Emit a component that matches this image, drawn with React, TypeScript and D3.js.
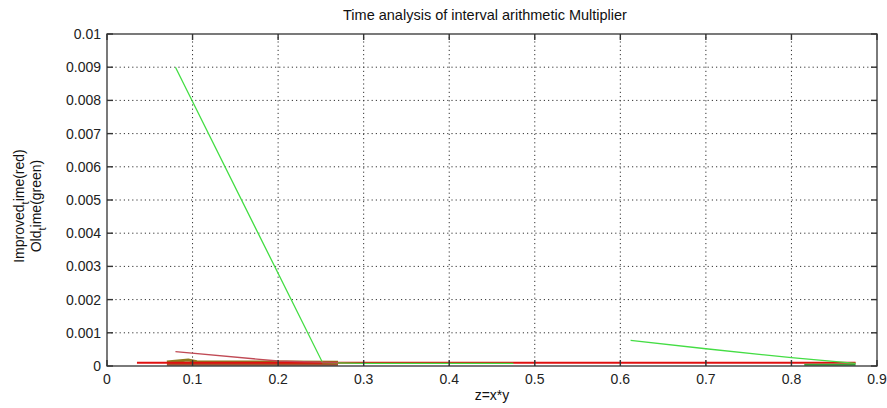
import * as d3 from 'd3'

// values
const xTicks = [0, 0.1, 0.2, 0.3, 0.4, 0.5, 0.6, 0.7, 0.8, 0.9]
const yTicks = [0, 0.001, 0.002, 0.003, 0.004, 0.005, 0.006, 0.007, 0.008, 0.009, 0.01]

// old time (green), two runs
const oldX1 = [0.08, 0.252, 0.3, 0.43, 0.475]
const oldY1 = [0.009, 0.0001, 0.00008, 0.00008, 0.00008]
const oldX2 = [0.612, 0.7, 0.8, 0.875]
const oldY2 = [0.00077, 0.00052, 0.00025, 0.00008]

// improved time (reds / browns)
const impX1 = [0.035, 0.1, 0.2, 0.3, 0.4, 0.42, 0.475, 0.5, 0.6, 0.7, 0.8, 0.875]
const impY1 = [0.0001, 0.0001, 0.0001, 0.0001, 0.0001, 0.0001, 0.0001, 0.0001, 0.0001, 0.0001, 0.0001, 0.0001]
const impX2 = [0.08, 0.2, 0.27]
const impY2 = [0.00043, 0.00015, 0.0001]
const oliveX = [0.07, 0.095, 0.105, 0.2, 0.27]
const oliveY = [0.00012, 0.00018, 0.00013, 0.00012, 0.00011]
const brownX = [0.07, 0.27]
const brownY = [0.00005, 0.00005]
const tailX = [0.815, 0.875]
const tailY = [0.00004, 0.00004]

const W = 887
const H = 408
const m = { top: 34, right: 10, bottom: 42, left: 107 }

const x = d3.scaleLinear().domain([0, 0.9]).range([m.left, W - m.right])
const y = d3.scaleLinear().domain([0, 0.01]).range([H - m.bottom, m.top])

const line = (xs: number[], ys: number[]) =>
  d3.line<number>().x((d) => x(d)).y((_, i) => y(ys[i]))(xs) || ''

const series = [
  { xs: brownX, ys: brownY, color: '#a4522e', w: 3 },
  { xs: oliveX, ys: oliveY, color: '#8c7a1c', w: 3 },
  { xs: impX1, ys: impY1, color: '#e01010', w: 2 },
  { xs: tailX, ys: tailY, color: '#3aa03a', w: 2 },
  { xs: oldX1, ys: oldY1, color: '#44dd44', w: 1.3 },
  { xs: oldX2, ys: oldY2, color: '#44dd44', w: 1.3 },
  { xs: impX2, ys: impY2, color: '#c04a55', w: 1.3 },
]

export default function App() {
  const font = 'Liberation Sans, Arial, sans-serif'
  const x0 = x(0)
  const x1 = x(0.9)
  const y0 = y(0)
  const y1 = y(0.01)
  return (
    <>
      <style>{'body{margin:0}'}</style>
      <svg width={W} height={H} style={{ display: 'block', background: '#fff' }} fontFamily={font}>
        {/* grid */}
        {xTicks.slice(1, -1).map((t) => (
          <line key={'gx' + t} x1={x(t)} x2={x(t)} y1={y0} y2={y1} stroke="#333" strokeDasharray="1.2,3" />
        ))}
        {yTicks.slice(1, -1).map((t) => (
          <line key={'gy' + t} x1={x0} x2={x1} y1={y(t)} y2={y(t)} stroke="#333" strokeDasharray="1.2,3" />
        ))}

        {series.map((s, i) => (
          <path key={i} d={line(s.xs, s.ys)} fill="none" stroke={s.color} strokeWidth={s.w} />
        ))}

        {/* box */}
        <rect x={x0} y={y1} width={x1 - x0} height={y0 - y1} fill="none" stroke="#333" strokeWidth={1.3} />
        {xTicks.map((t) => (
          <g key={'tx' + t}>
            <line x1={x(t)} x2={x(t)} y1={y0} y2={y0 - 6} stroke="#333" strokeWidth={1.4} />
            <line x1={x(t)} x2={x(t)} y1={y1} y2={y1 + 6} stroke="#333" strokeWidth={1.4} />
            <text x={x(t)} y={y0 + 18} textAnchor="middle" fontSize={14} fill="#222">
              {t === 0 ? '0' : d3.format('.1f')(t)}
            </text>
          </g>
        ))}
        {yTicks.map((t) => (
          <g key={'ty' + t}>
            <line x1={x0} x2={x0 + 6} y1={y(t)} y2={y(t)} stroke="#333" strokeWidth={1.4} />
            <line x1={x1} x2={x1 - 6} y1={y(t)} y2={y(t)} stroke="#333" strokeWidth={1.4} />
            <text x={x0 - 6} y={y(t) + 5} textAnchor="end" fontSize={14} fill="#222">
              {t === 0 ? '0' : String(+t.toFixed(3))}
            </text>
          </g>
        ))}

        <text x={485} y={20} textAnchor="middle" fontSize={14.5} fill="#111">
          Time analysis of interval arithmetic Multiplier
        </text>
        <text x={(x0 + x1) / 2} y={400} textAnchor="middle" fontSize={14} fill="#111">
          z=x*y
        </text>
        <g transform={`translate(24, ${(y0 + y1) / 2 + 6}) rotate(-90)`}>
          <text textAnchor="middle" fontSize={14} fill="#111">
            Improved<tspan dy={5} fontSize={11}>t</tspan><tspan dy={-5}>ime(red)</tspan>
          </text>
          <text y={17} textAnchor="middle" fontSize={14} fill="#111">
            Old<tspan dy={5} fontSize={11}>t</tspan><tspan dy={-5}>ime(green)</tspan>
          </text>
        </g>
      </svg>
    </>
  )
}
